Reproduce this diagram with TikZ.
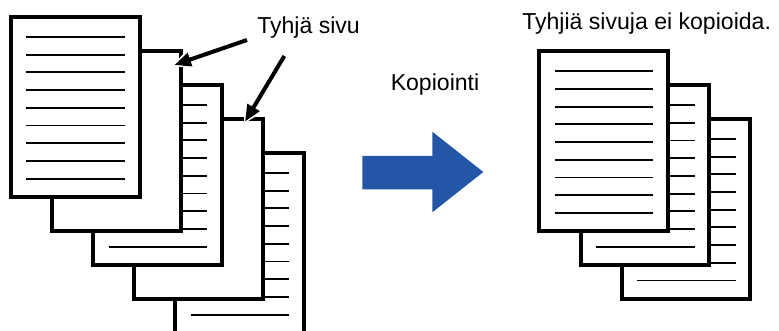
\documentclass[tikz,border=0pt]{standalone}
\usepackage{fontspec}
\setmainfont{Liberation Sans}
\usetikzlibrary{calc,arrows.meta}
\definecolor{arrowblue}{HTML}{2356A6}
\newcommand\pagelines[1]{\foreach \k in {0,...,8}{\draw[tline] ($(#1.north west)+(15.5,20+17.7*\k)$) -- ($(#1.north west)+(114,20+17.7*\k)$);}}
\begin{document}
\begin{tikzpicture}[x=0.75pt,y=-0.75pt,
  page/.style={draw=black, fill=white, line width=3pt, rectangle, minimum width=96.4pt, minimum height=135pt, inner sep=0pt, outer sep=0pt},
  tline/.style={line width=1.4pt},
  lbl/.style={font=\fontsize{17.3}{20}\selectfont, inner sep=0pt, anchor=base west},
  callout/.style={line width=3pt, -{Triangle[length=12.5pt,width=10pt]}, preaction={draw=white, line width=5pt, -{Triangle[length=15pt,width=14pt]}, shorten >=-2pt}}
]
\useasboundingbox (0,0) rectangle (779,331);
% left stack (back to front)
\node[page] (p5) at (239.65,243) {};
\pagelines{p5}
\node[page] (p4) at (198.55,209) {};
\node[page] (p3) at (157.45,175) {};
\pagelines{p3}
\node[page] (p2) at (116.35,141) {};
\node[page] (p1) at (75.25,107) {};
\pagelines{p1}
% right stack
\node[page] (q3) at (686.15,208.9) {};
\pagelines{q3}
\node[page] (q2) at (644.95,175.1) {};
\pagelines{q2}
\node[page] (q1) at (603.75,141.3) {};
\pagelines{q1}
% big arrow
\fill[arrowblue] (362.3,156) -- (432.3,156) -- (432.3,131.7) -- (483.3,172) -- (432.3,212.3) -- (432.3,189.3) -- (362.3,189.3) -- cycle;
% labels
\node[lbl] (blank) at (257,33.3) {Tyhjä sivu};
\node[lbl] (copy) at (390.5,91) {Kopiointi};
\node[lbl] (result) at (522,30) {Tyhjiä sivuja ei kopioida.};
% callout arrows
\coordinate (a1s) at (247,40);
\coordinate (a1t) at (174.3,65);
\coordinate (a2s) at (284.3,56);
\coordinate (a2t) at (245,121.7);
\draw[callout] (a1s) -- (a1t);
\draw[callout] (a2s) -- (a2t);
\end{tikzpicture}
\end{document}
